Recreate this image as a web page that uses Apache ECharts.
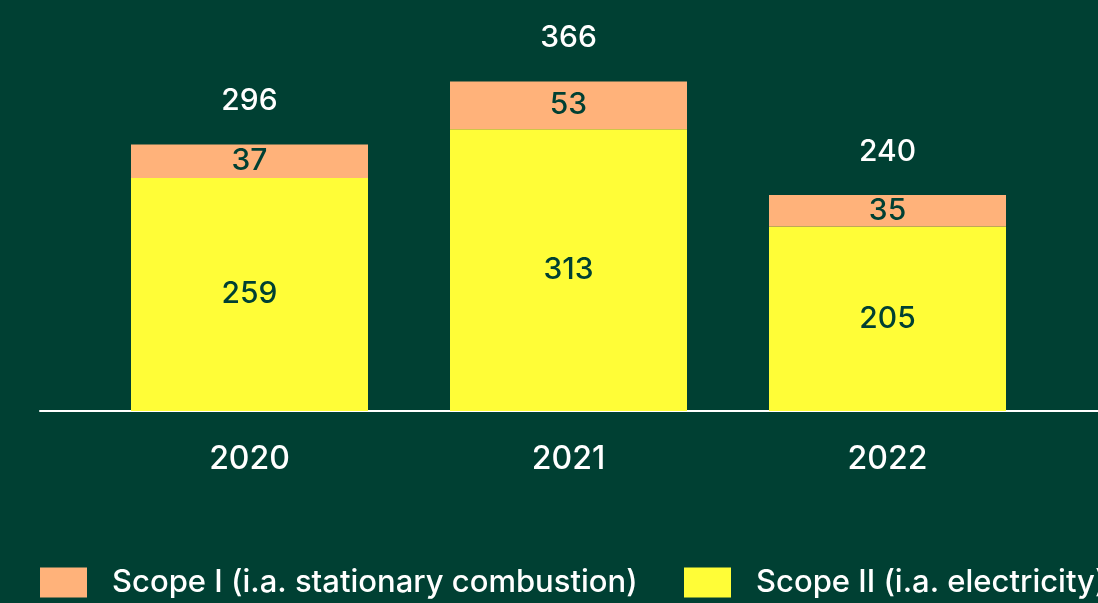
<!DOCTYPE html>
<html>
<head>
<meta charset="utf-8">
<title>Scope I / Scope II</title>
<script src="https://cdn.jsdelivr.net/npm/echarts@6/dist/echarts.min.js"></script>
<style>
    html, body { margin: 0; padding: 0; background: #004033; }
    #chart { width: 1098px; height: 603px; }
</style>
</head>
<body>
<div id="chart"></div>
<script>
    // data
    const years = ['2020', '2021', '2022'];
    const scope1 = [37, 53, 35];      // Scope I (i.a. stationary combustion)
    const scope2 = [259, 313, 205];   // Scope II (i.a. electricity)
    const totals = [296, 366, 240];

    const scope1Name = 'Scope I (i.a. stationary combustion)';
    const scope2Name = 'Scope II (i.a. electricity)';

    const bg = '#004033';
    const orange = '#ffb27a';
    const yellow = '#fffd37';
    const font = 'Inter';

    let myChart = echarts.init(document.getElementById('chart'));

    const legendText = { color: '#fff', fontSize: 31, fontWeight: 500, fontFamily: font, padding: [0, 0, 0, 20] };

    myChart.setOption({
        backgroundColor: bg,
        animation: false,
        textStyle: { fontFamily: font },
        grid: [
            { left: 90, right: 51, top: 51, bottom: 192 },
            // only used to draw the long base line
            { left: 40, right: 0, top: 410, bottom: 192 }
        ],
        legend: [
            {
                data: [scope1Name],
                left: 40,
                top: 567,
                padding: 0,
                icon: 'rect',
                itemWidth: 47,
                itemHeight: 30,
                selectedMode: false,
                textStyle: legendText
            },
            {
                data: [scope2Name],
                left: 684,
                top: 567,
                padding: 0,
                icon: 'rect',
                itemWidth: 47,
                itemHeight: 30,
                selectedMode: false,
                textStyle: legendText
            }
        ],
        xAxis: [
            {
                type: 'category',
                gridIndex: 0,
                data: years,
                axisLine: { show: false },
                axisTick: { show: false },
                axisLabel: { color: '#fff', fontSize: 32, fontWeight: 500, fontFamily: font, margin: 32 }
            },
            {
                type: 'value',
                gridIndex: 1,
                axisLine: { show: true, onZero: false, lineStyle: { color: '#fff', width: 2 } },
                axisTick: { show: false },
                axisLabel: { show: false },
                splitLine: { show: false }
            }
        ],
        yAxis: [
            { type: 'value', gridIndex: 0, min: 0, max: 400, show: false },
            { type: 'value', gridIndex: 1, show: false }
        ],
        series: [
            {
                name: scope2Name,
                type: 'bar',
                stack: 'scope',
                barWidth: 237,
                itemStyle: { color: yellow },
                label: { show: true, position: 'inside', color: bg, fontSize: 30, fontWeight: 500, fontFamily: font },
                data: scope2
            },
            {
                name: scope1Name,
                type: 'bar',
                stack: 'scope',
                barWidth: 237,
                itemStyle: { color: orange },
                label: { show: true, position: 'inside', color: bg, fontSize: 30, fontWeight: 500, fontFamily: font },
                data: scope1
            },
            {
                // totals above each bar
                name: 'total',
                type: 'scatter',
                symbolSize: 1,
                itemStyle: { color: 'transparent', opacity: 1 },
                label: { show: true, position: 'top', distance: 28, color: '#fff', fontSize: 30, fontWeight: 500, fontFamily: font },
                silent: true,
                data: totals
            }
        ]
    });
</script>
</body>
</html>
